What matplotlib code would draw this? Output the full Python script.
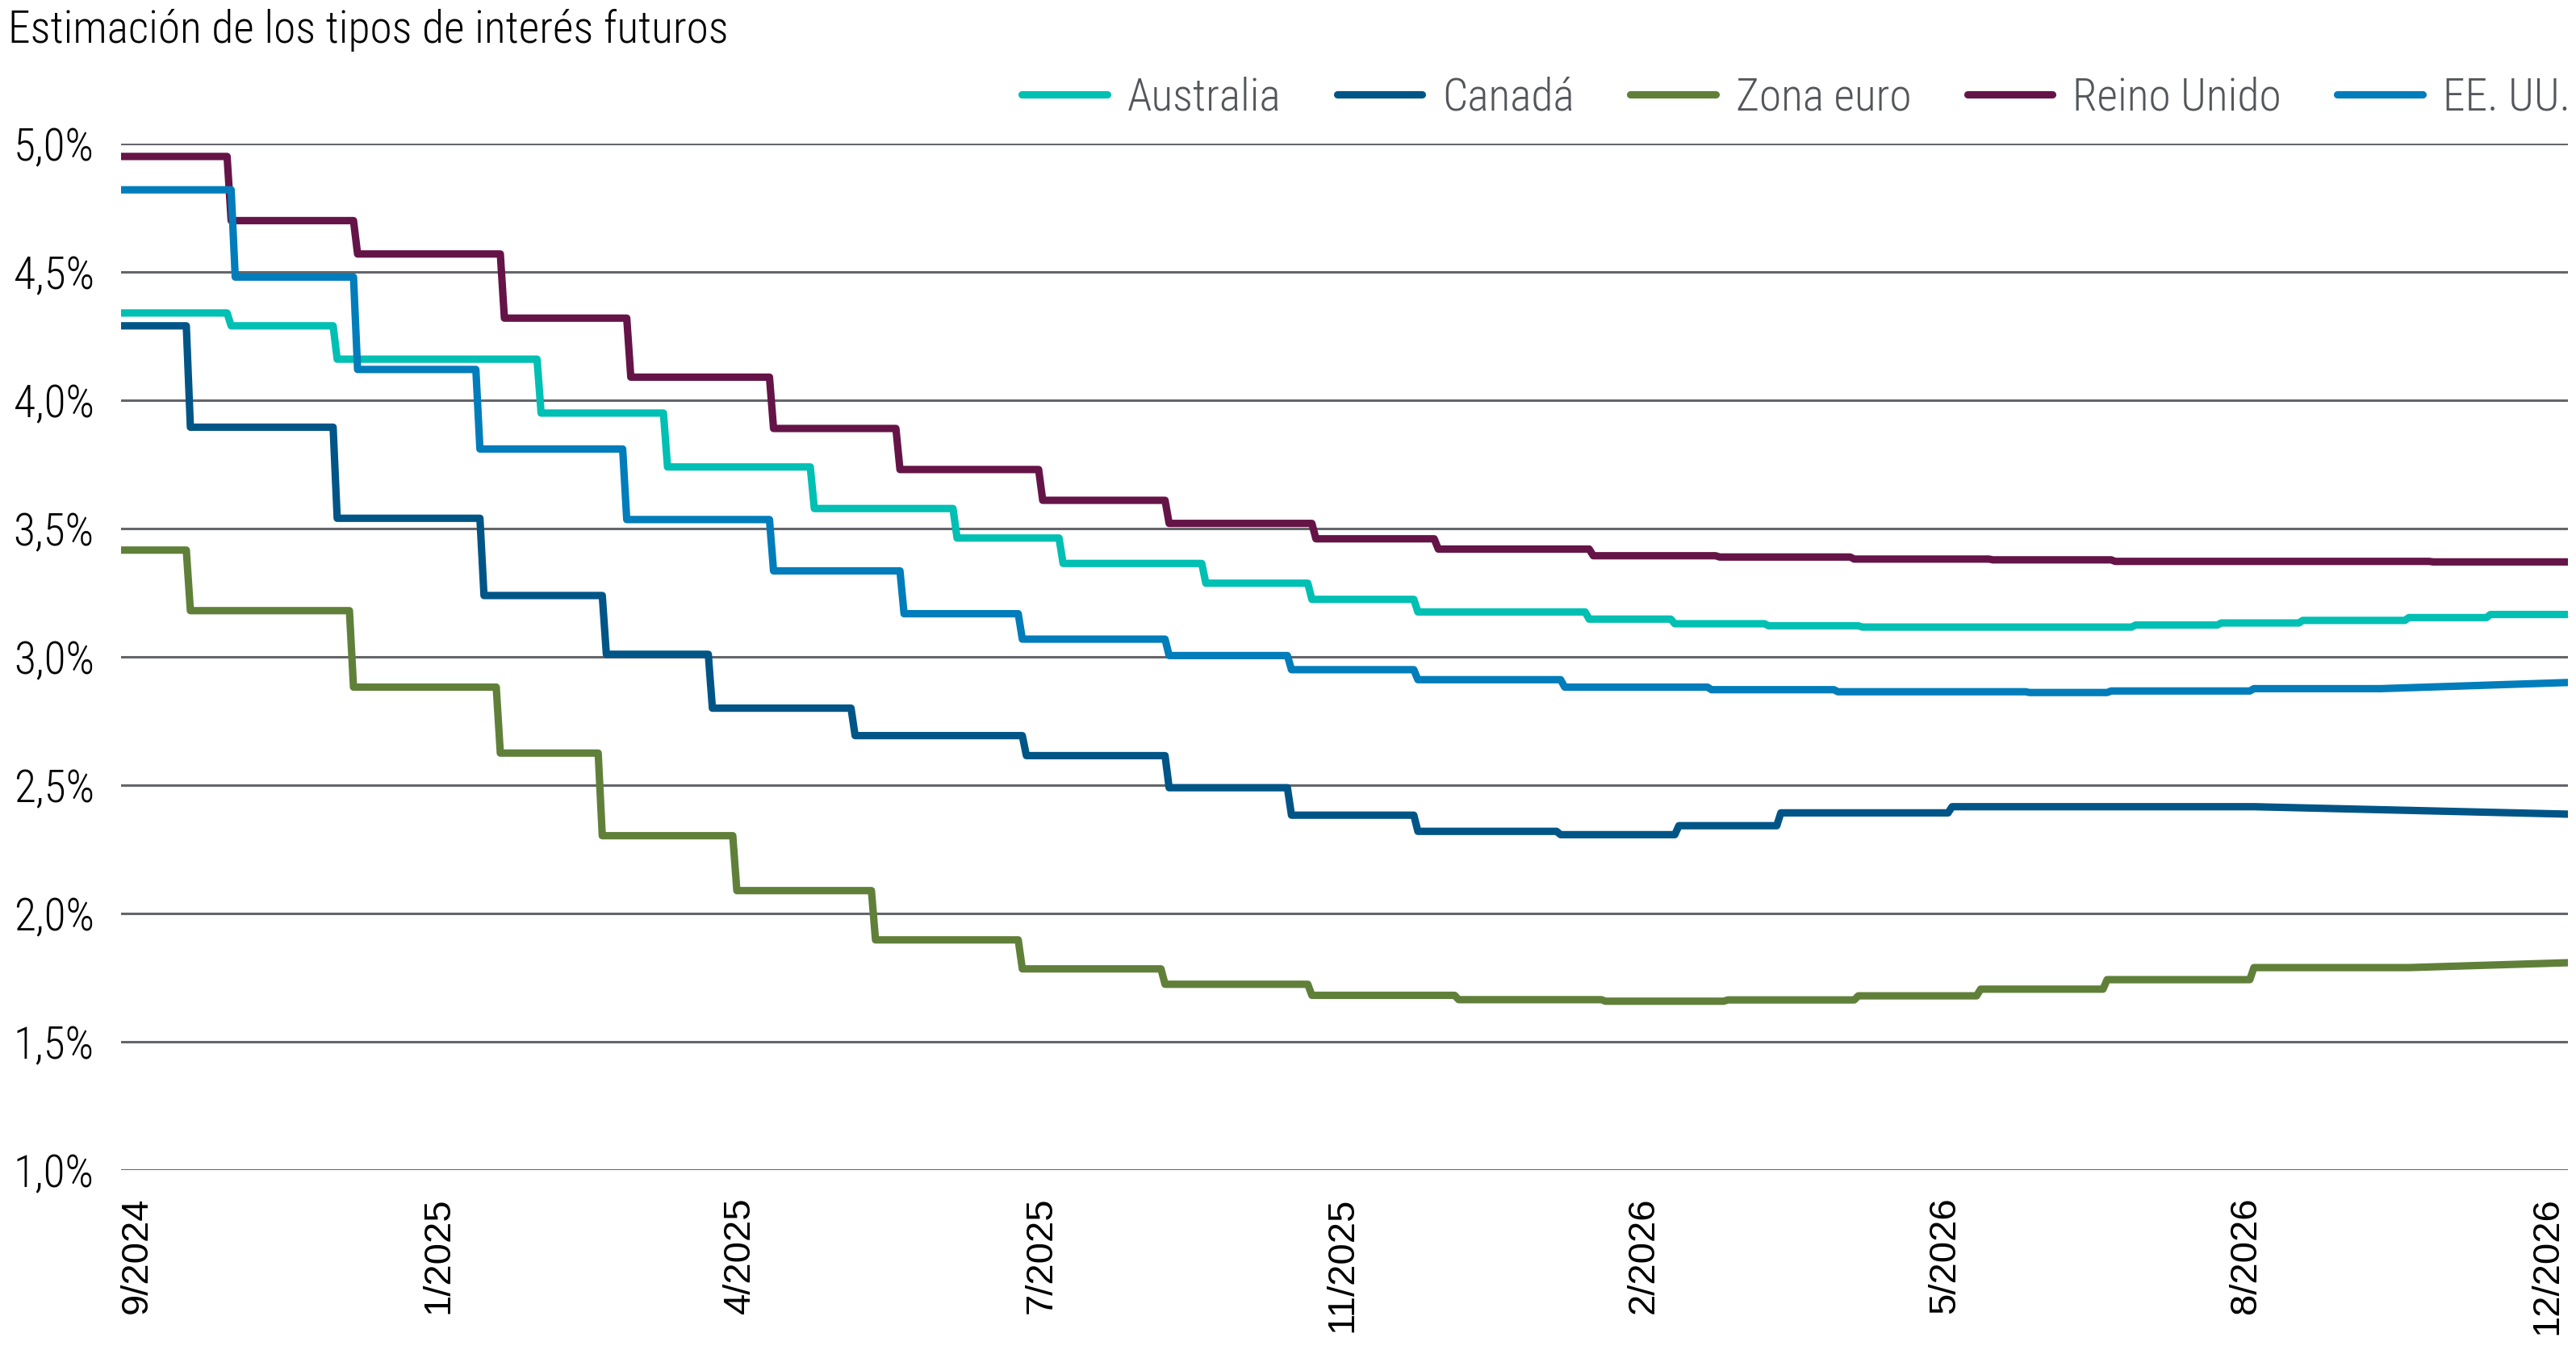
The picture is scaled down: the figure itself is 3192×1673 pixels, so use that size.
import os

import numpy as np
import matplotlib
matplotlib.use("Agg")
from matplotlib import pyplot as plt
from matplotlib import font_manager
from matplotlib.lines import Line2D

# x = observation index (0 = first day shown, 600 = last day shown)
x_end = 600
tick_labels = ["9/2024", "1/2025", "4/2025", "7/2025", "11/2025",
               "2/2026", "5/2026", "8/2026", "12/2026"]

names = ["Australia", "Canadá", "Zona euro", "Reino Unido", "EE. UU."]
colors = ["#00BFB3", "#005587", "#60803A", "#651447", "#007DBA"]

# change points (index) and the level (%) that holds from each one
au_x = [0, 27, 53, 103, 134, 170, 205, 231, 266, 292, 318, 360, 381, 404, 427, 494, 515, 535, 561, 581]
au_y = [4.34, 4.29, 4.16, 3.95, 3.74, 3.578, 3.463, 3.364, 3.287, 3.224, 3.175,
        3.147, 3.129, 3.121, 3.116, 3.124, 3.132, 3.142, 3.153, 3.165]
au_end = 3.165

ca_x = [0, 17, 53, 89, 119, 145, 180, 222, 257, 287, 318, 353, 382, 407, 449, 523]
ca_y = [4.29, 3.895, 3.54, 3.239, 3.01, 2.80, 2.693, 2.615, 2.49, 2.383, 2.32,
        2.307, 2.342, 2.392, 2.416, 2.416]
ca_end = 2.387

eu_x = [0, 17, 57, 93, 118, 151, 185, 221, 256, 292, 328, 364, 394, 426, 456, 487, 523, 561]
eu_y = [3.416, 3.18, 2.882, 2.625, 2.303, 2.089, 1.897, 1.784, 1.724, 1.681, 1.664,
        1.658, 1.663, 1.679, 1.705, 1.742, 1.789, 1.789]
eu_end = 1.808

uk_x = [0, 27, 58, 94, 125, 160, 191, 226, 257, 293, 323, 361, 392, 425, 459, 489, 567]
uk_y = [4.95, 4.70, 4.57, 4.32, 4.09, 3.89, 3.73, 3.61, 3.52, 3.46, 3.42,
        3.394, 3.389, 3.381, 3.378, 3.372, 3.370]
uk_end = 3.370

us_x = [0, 28, 58, 88, 124, 160, 192, 221, 257, 287, 318, 354, 390, 421, 468, 488, 523, 554]
us_y = [4.82, 4.48, 4.12, 3.81, 3.535, 3.335, 3.168, 3.069, 3.005, 2.95, 2.911,
        2.882, 2.872, 2.864, 2.861, 2.867, 2.876, 2.876]
us_end = 2.90

y_ticks = [1.0, 1.5, 2.0, 2.5, 3.0, 3.5, 4.0, 4.5, 5.0]


def find_narrow_font():
    files = [f.fname for f in font_manager.fontManager.ttflist]
    prefs = ["RobotoCondensed-Light.", "RobotoCondensed-Regular", "Roboto_Condensed-Regular",
             "LiberationSansNarrow-Regular", "NotoSans-CondensedRegular", "DejaVuSansCondensed."]
    for p in prefs:
        for f in files:
            if p in os.path.basename(f):
                return f
    return None


def step_path(xs, ys, end_y):
    px, py = [], []
    for i in range(len(xs)):
        last = i == len(xs) - 1
        px += [xs[i], x_end if last else xs[i + 1] - 1]
        py += [ys[i], end_y if last else ys[i]]
    return px, py


narrow_file = find_narrow_font()


def narrow(size):
    if narrow_file:
        return font_manager.FontProperties(fname=narrow_file, size=size)
    return font_manager.FontProperties(family="DejaVu Sans", size=size)


fig = plt.figure(figsize=(15.96, 8.365), dpi=200)
ax = fig.add_axes([150 / 3192, 1 - 1450 / 1673, (3182 - 150) / 3192, (1450 - 178) / 1673])

series = [(au_x, au_y, au_end), (ca_x, ca_y, ca_end), (eu_x, eu_y, eu_end),
          (uk_x, uk_y, uk_end), (us_x, us_y, us_end)]
for (xs, ys, ye), name, c in zip(series, names, colors):
    px, py = step_path(xs, ys, ye)
    ax.plot(px, py, color=c, lw=3.3, solid_capstyle="round", solid_joinstyle="round", label=name, zorder=3)

ax.set_xlim(0, x_end)
ax.set_ylim(1.0, 5.0)
ax.set_yticks(y_ticks)
ax.set_yticklabels([("%.1f%%" % v).replace(".", ",") for v in y_ticks], fontproperties=narrow(20))
ax.grid(axis="y", color="#63666A", lw=1.1, zorder=1)
ax.set_xticks(np.linspace(4, 595, len(tick_labels)))
ax.set_xticklabels(tick_labels, rotation=90, family="Liberation Sans", size=17, va="top")
ax.tick_params(axis="both", length=0)
ax.tick_params(axis="y", pad=12)
ax.tick_params(axis="x", pad=12)
for s in ax.spines.values():
    s.set_visible(False)

fig.text(10 / 3192, 1 - 38 / 1673, "Estimación de los tipos de interés futuros",
         fontproperties=narrow(20), va="center", ha="left", color="black")

handles = [Line2D([], [], color=c, lw=3.3, solid_capstyle="round") for c in colors]
leg = fig.legend(handles, names, loc="center right", bbox_to_anchor=(3185 / 3192, 1 - 121 / 1673),
                 ncol=5, frameon=False, prop=narrow(20), handlelength=1.9, handletextpad=0.45,
                 columnspacing=1.25, borderaxespad=0, borderpad=0, labelcolor="#53565A")

fig.savefig("out.png", dpi=200)
